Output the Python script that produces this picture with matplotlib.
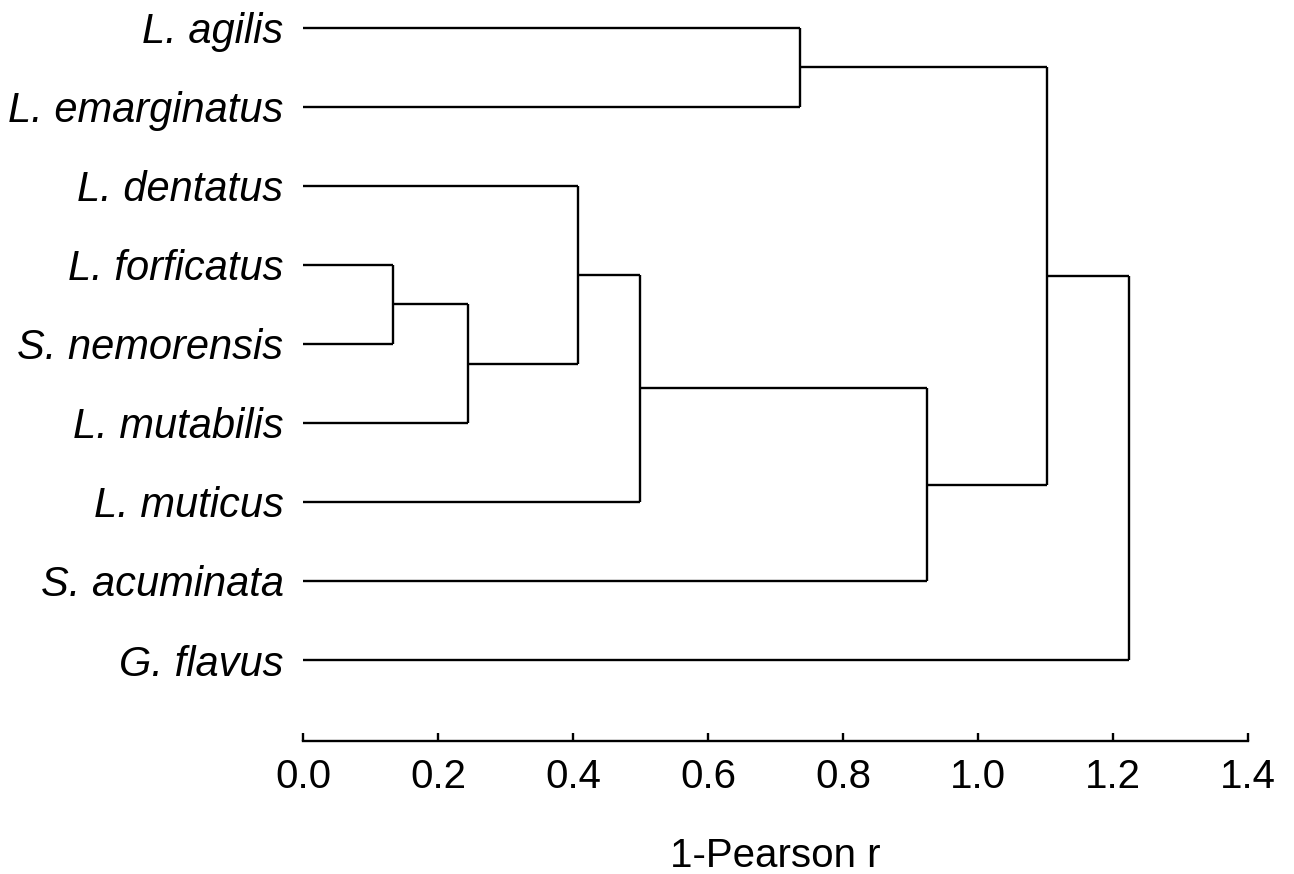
import matplotlib
matplotlib.use("Agg")
import matplotlib.pyplot as plt

# ---- data ----
species = ["L. agilis", "L. emarginatus", "L. dentatus", "L. forficatus",
           "S. nemorensis", "L. mutabilis", "L. muticus", "S. acuminata", "G. flavus"]
# merges: (cluster a, cluster b, distance); clusters 0..8 are leaves, new ones numbered 9, 10, ...
merge_a = [3, 9, 2, 11, 12, 0, 14, 15]
merge_b = [4, 5, 10, 6, 7, 1, 13, 8]
merge_h = [0.133, 0.244, 0.407, 0.499, 0.924, 0.736, 1.102, 1.224]
xticks = [0.0, 0.2, 0.4, 0.6, 0.8, 1.0, 1.2, 1.4]
xlabel = "1-Pearson r"

plt.rcParams['font.family'] = ['Liberation Sans', 'DejaVu Sans']

fig = plt.figure(figsize=(12.94, 8.74), dpi=100)
W, H = 1294, 874
ax = fig.add_axes([303 / W, 1 - 741 / H, (1248 - 303) / W, (741 - 12) / H])
ax.set_xlim(0, 1.4)
ax.set_ylim(-1.025, 8.2)

n = len(species)
ypos = {i: n - 1 - i for i in range(n)}
hpos = {i: 0.0 for i in range(n)}
lw = 1.7
for k, (a, b, h) in enumerate(zip(merge_a, merge_b, merge_h)):
    ya, yb = ypos[a], ypos[b]
    ax.plot([hpos[a], h], [ya, ya], color='black', lw=lw, solid_capstyle='butt')
    ax.plot([hpos[b], h], [yb, yb], color='black', lw=lw, solid_capstyle='butt')
    ax.plot([h, h], [ya, yb], color='black', lw=lw, solid_capstyle='butt')
    new = n + k
    ypos[new] = (ya + yb) / 2
    hpos[new] = h

for s in ['top', 'right', 'left']:
    ax.spines[s].set_visible(False)
ax.spines['bottom'].set_linewidth(1.7)

ax.set_yticks([ypos[i] for i in range(n)])
ax.set_yticklabels(species, fontsize=30, style='italic')
ax.tick_params(axis='y', length=0, pad=14)

ax.set_xticks(xticks)
ax.set_xticklabels([f"{t:.1f}" for t in xticks], fontsize=29)
ax.tick_params(axis='x', direction='in', length=6, width=1.7, pad=12)
ax.set_xlabel(xlabel, fontsize=29, labelpad=30)

fig.savefig("out.png", dpi=100)
